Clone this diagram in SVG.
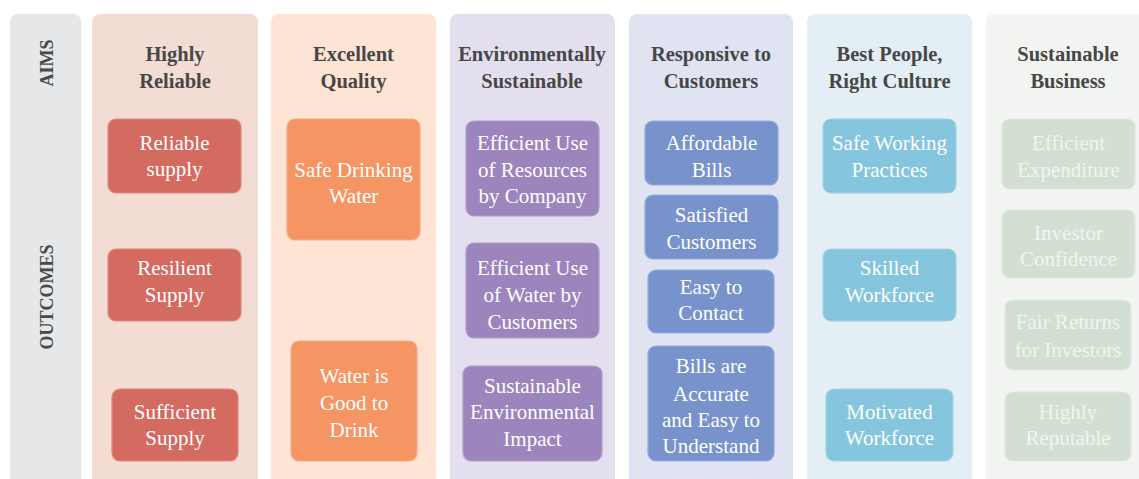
<svg xmlns="http://www.w3.org/2000/svg" width="1139" height="479" viewBox="0 0 1139 479">
  <style>
    .band { stroke: none; }
    .head { font-family: "Liberation Serif", serif; font-weight: bold; font-size: 20.5px; fill: #474747; text-anchor: middle; }
    .side { font-family: "Liberation Serif", serif; font-weight: bold; font-size: 18px; fill: #4a4a4a; text-anchor: middle; }
    .box { stroke-width: 1.2; }
    .lbl { font-family: "Liberation Serif", serif; font-size: 21px; fill: #ffffff; text-anchor: middle; }
    .red { fill: #d46b61; stroke: #e0877e; }
    .orange { fill: #f59563; stroke: #f8ab82; }
    .purple { fill: #9c84bd; stroke: #b19dcb; }
    .blue { fill: #7893cb; stroke: #93a9d7; }
    .sky { fill: #85c5dd; stroke: #a1d3e5; }
    .sage { fill: #d4dfd4; stroke: #dfe7de; }
    .sage-t { fill: #f1f4ef; }
  </style>

  <rect width="1139" height="479" fill="#ffffff"/>

  <!-- background bands -->
  <g id="bands">
    <rect class="band" x="10" y="14" width="71" height="480" rx="8" fill="#e6e7e9"/>
    <rect class="band" x="92" y="14" width="166" height="480" rx="8" fill="#f2dcd4"/>
    <rect class="band" x="271" y="14" width="165" height="480" rx="8" fill="#fde4d5"/>
    <rect class="band" x="450" y="14" width="165" height="480" rx="8" fill="#e4dfee"/>
    <rect class="band" x="629" y="14" width="164" height="480" rx="8" fill="#dfe3f2"/>
    <rect class="band" x="807" y="14" width="165" height="480" rx="8" fill="#e4eff5"/>
    <rect class="band" x="986" y="14" width="170" height="480" rx="8" fill="#f2f4f1"/>
  </g>

  <!-- row labels -->
  <g id="row-labels">
    <text class="side" x="53" y="63" transform="rotate(-90 53 63)">AIMS</text>
    <text class="side" x="53" y="297" transform="rotate(-90 53 297)">OUTCOMES</text>
  </g>

  <!-- aim headings -->
  <g id="aims">
    <text class="head" x="175" y="61">Highly<tspan x="175" y="88">Reliable</tspan></text>
    <text class="head" x="353.5" y="61">Excellent<tspan x="353.5" y="88">Quality</tspan></text>
    <text class="head" x="532" y="61">Environmentally<tspan x="532" y="88">Sustainable</tspan></text>
    <text class="head" x="711" y="61">Responsive to<tspan x="711" y="88">Customers</tspan></text>
    <text class="head" x="889.5" y="61">Best People,<tspan x="889.5" y="88">Right Culture</tspan></text>
    <text class="head" x="1068" y="61">Sustainable<tspan x="1068" y="88">Business</tspan></text>
  </g>

  <!-- outcomes: Highly Reliable -->
  <g id="reliable-supply">
    <rect class="box red" x="108" y="119" width="133" height="74" rx="8"/>
    <text class="lbl" x="174.5" y="150">Reliable<tspan x="174.5" y="176">supply</tspan></text>
  </g>
  <g id="resilient-supply">
    <rect class="box red" x="108" y="249" width="133" height="72" rx="8"/>
    <text class="lbl" x="174.5" y="275">Resilient<tspan x="174.5" y="302">Supply</tspan></text>
  </g>
  <g id="sufficient-supply">
    <rect class="box red" x="112" y="389" width="126" height="72" rx="8"/>
    <text class="lbl" x="175" y="419">Sufficient<tspan x="175" y="445">Supply</tspan></text>
  </g>

  <!-- outcomes: Excellent Quality -->
  <g id="safe-drinking-water">
    <rect class="box orange" x="287" y="119" width="133" height="121" rx="8"/>
    <text class="lbl" x="353.5" y="177">Safe Drinking<tspan x="353.5" y="203">Water</tspan></text>
  </g>
  <g id="water-good-to-drink">
    <rect class="box orange" x="291" y="341" width="126" height="120" rx="8"/>
    <text class="lbl" x="354" y="383">Water is<tspan x="354" y="410">Good to</tspan><tspan x="354" y="437">Drink</tspan></text>
  </g>

  <!-- outcomes: Environmentally Sustainable -->
  <g id="resources-by-company">
    <rect class="box purple" x="466" y="121" width="133" height="95" rx="8"/>
    <text class="lbl" x="532.5" y="150">Efficient Use<tspan x="532.5" y="177">of Resources</tspan><tspan x="532.5" y="203">by Company</tspan></text>
  </g>
  <g id="water-by-customers">
    <rect class="box purple" x="466" y="243" width="133" height="95" rx="8"/>
    <text class="lbl" x="532.5" y="275">Efficient Use<tspan x="532.5" y="302">of Water by</tspan><tspan x="532.5" y="329">Customers</tspan></text>
  </g>
  <g id="environmental-impact">
    <rect class="box purple" x="463" y="366" width="139" height="95" rx="8"/>
    <text class="lbl" x="532.5" y="393">Sustainable<tspan x="532.5" y="419">Environmental</tspan><tspan x="532.5" y="446">Impact</tspan></text>
  </g>

  <!-- outcomes: Responsive to Customers -->
  <g id="affordable-bills">
    <rect class="box blue" x="645" y="121" width="133" height="64" rx="8"/>
    <text class="lbl" x="711.5" y="150">Affordable<tspan x="711.5" y="177">Bills</tspan></text>
  </g>
  <g id="satisfied-customers">
    <rect class="box blue" x="645" y="195" width="133" height="64" rx="8"/>
    <text class="lbl" x="711.5" y="222">Satisfied<tspan x="711.5" y="249">Customers</tspan></text>
  </g>
  <g id="easy-to-contact">
    <rect class="box blue" x="648" y="270" width="126" height="63" rx="8"/>
    <text class="lbl" x="711" y="294">Easy to<tspan x="711" y="320">Contact</tspan></text>
  </g>
  <g id="accurate-bills">
    <rect class="box blue" x="648" y="346" width="126" height="115" rx="8"/>
    <text class="lbl" x="711" y="373">Bills are<tspan x="711" y="401">Accurate</tspan><tspan x="711" y="427">and Easy to</tspan><tspan x="711" y="453">Understand</tspan></text>
  </g>

  <!-- outcomes: Best People, Right Culture -->
  <g id="safe-working">
    <rect class="box sky" x="823" y="119" width="133" height="74" rx="8"/>
    <text class="lbl" x="889.5" y="150">Safe Working<tspan x="889.5" y="177">Practices</tspan></text>
  </g>
  <g id="skilled-workforce">
    <rect class="box sky" x="823" y="249" width="133" height="72" rx="8"/>
    <text class="lbl" x="889.5" y="275">Skilled<tspan x="889.5" y="302">Workforce</tspan></text>
  </g>
  <g id="motivated-workforce">
    <rect class="box sky" x="826" y="389" width="127" height="72" rx="8"/>
    <text class="lbl" x="889.5" y="419">Motivated<tspan x="889.5" y="445">Workforce</tspan></text>
  </g>

  <!-- outcomes: Sustainable Business -->
  <g id="efficient-expenditure">
    <rect class="box sage" x="1002" y="119" width="133" height="70" rx="8"/>
    <text class="lbl sage-t" x="1068.5" y="150">Efficient<tspan x="1068.5" y="177">Expenditure</tspan></text>
  </g>
  <g id="investor-confidence">
    <rect class="box sage" x="1002" y="210" width="133" height="68" rx="8"/>
    <text class="lbl sage-t" x="1068.5" y="240">Investor<tspan x="1068.5" y="266">Confidence</tspan></text>
  </g>
  <g id="fair-returns">
    <rect class="box sage" x="1005" y="300" width="126" height="70" rx="8"/>
    <text class="lbl sage-t" x="1068" y="329">Fair Returns<tspan x="1068" y="357">for Investors</tspan></text>
  </g>
  <g id="highly-reputable">
    <rect class="box sage" x="1005" y="392" width="126" height="69" rx="8"/>
    <text class="lbl sage-t" x="1068" y="419">Highly<tspan x="1068" y="445">Reputable</tspan></text>
  </g>

  <!-- no connectors in this chart -->
  <g id="connectors"/>
</svg>
